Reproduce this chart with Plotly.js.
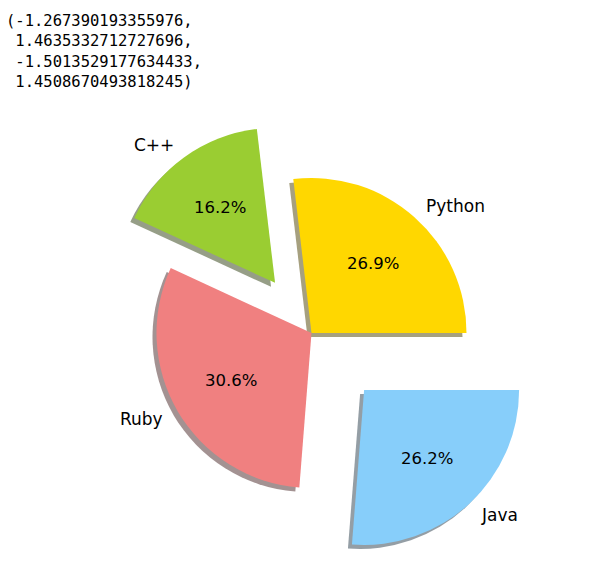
<!DOCTYPE html>
<html><head><meta charset="utf-8">
<script src="https://cdn.plot.ly/plotly-3.0.1.min.js"></script>
<style>html,body{margin:0;padding:0;background:#fff}#chart{width:610px;height:576px}</style>
</head><body><div id="chart"></div>
<script>
// ---- data ----
const labels = ['Python', 'C++', 'Ruby', 'Java'];
const sizes = [215, 130, 245, 210];
const explode = [0, 0.4, 0, 0.5];
const axisLimits = ['-1.267390193355976', '1.4635332712727696', '-1.5013529177634433', '1.4508670493818245'];

// ---- style ----
const colorsRGB = [[255, 215, 0], [154, 205, 50], [240, 128, 128], [135, 206, 250]];
const W = 610, H = 576;
const CX = 311.5, CY = 333, R = 155;          // pie centre & radius in pixels
const SHADOW = {dx: -4, dy: 4};
const labelDist = 1.1, pctDist = 0.6;
const START_ANGLE = 0;                         // matplotlib startangle (deg, ccw from 3 o'clock)

const colors = colorsRGB.map(c => `rgb(${c[0]},${c[1]},${c[2]})`);
const shadowColors = colorsRGB.map(c => `rgba(${(0.3*c[0]).toFixed(0)},${(0.3*c[1]).toFixed(0)},${(0.3*c[2]).toFixed(0)},0.5)`);

const maxPull = Math.max(...explode);
const box = 2 * R * (1 + maxPull);
const dom = {x: [(CX - box/2)/W, (CX + box/2)/W], y: [1 - (CY + box/2)/H, 1 - (CY - box/2)/H]};
const shDom = {x: [dom.x[0] + SHADOW.dx/W, dom.x[1] + SHADOW.dx/W], y: [dom.y[0] - SHADOW.dy/H, dom.y[1] - SHADOW.dy/H]};

function fmtPct(p) { // python-style round-half-even, 1 decimal
  const v = p * 10, f = Math.floor(v), d = v - f;
  let n = d > 0.5 ? f + 1 : (d < 0.5 ? f : (f % 2 === 0 ? f : f + 1));
  return (n / 10).toFixed(1) + '%';
}

const total = sizes.reduce((a, b) => a + b, 0);
// plotly counterclockwise: first slice spans [rotation + v0, rotation] measured clockwise from 12 o'clock
const plotlyRotation = 90 - START_ANGLE - 360 * sizes[0] / total;

const annotations = [];
let start = START_ANGLE;
sizes.forEach((s, i) => {
  const frac = s / total;
  const mid = (start + frac * 180) * Math.PI / 180;
  start += frac * 360;
  const ux = Math.cos(mid), uy = Math.sin(mid);
  const pr = (pctDist + explode[i]) * R, lr = (labelDist + explode[i]) * R;
  annotations.push({xref: 'paper', yref: 'paper', x: (CX + pr*ux)/W, y: 1 - (CY - pr*uy)/H,
    text: fmtPct(frac * 100), showarrow: false, xanchor: 'center', yanchor: 'middle',
    borderpad: 0, borderwidth: 0, font: {family: 'DejaVu Sans', size: 16.5, color: '#000'}});
  annotations.push({xref: 'paper', yref: 'paper', x: (CX + lr*ux + (ux > 0 ? 1 : -1))/W, y: 1 - (CY - lr*uy)/H,
    text: labels[i], showarrow: false, xanchor: ux > 0 ? 'left' : 'right', yanchor: 'middle',
    borderpad: 0, borderwidth: 0, font: {family: 'DejaVu Sans', size: 17, color: '#000'}});
});

// jupyter output text (returned axis limits), one annotation per line
const outLines = axisLimits.map((v, i) => (i === 0 ? '(' : '\u00a0') + v + (i === axisLimits.length - 1 ? ')' : ','));
const OUT = {x: 6, y0: 20.5, dy: 20.6, size: 15.5};
outLines.forEach((t, i) => {
  annotations.push({xref: 'paper', yref: 'paper', x: OUT.x/W, y: 1 - (OUT.y0 + i*OUT.dy)/H,
    xanchor: 'left', yanchor: 'middle', align: 'left', showarrow: false, text: t,
    borderpad: 0, borderwidth: 0, font: {family: 'DejaVu Sans Mono', size: OUT.size, color: '#000'}});
});

const common = {type: 'pie', values: sizes, labels: labels, sort: false, direction: 'counterclockwise',
  rotation: plotlyRotation, pull: explode, textinfo: 'none', hoverinfo: 'skip', showlegend: false};

const data = [
  Object.assign({}, common, {domain: shDom, marker: {colors: shadowColors, line: {width: 0}}}),
  Object.assign({}, common, {domain: dom, marker: {colors: colors, line: {width: 0}}})
];

const layout = {width: W, height: H, margin: {l: 0, r: 0, t: 0, b: 0},
  paper_bgcolor: '#fff', plot_bgcolor: '#fff', showlegend: false, annotations: annotations};

Plotly.newPlot('chart', data, layout, {displayModeBar: false, staticPlot: true});
</script>
</body></html>
